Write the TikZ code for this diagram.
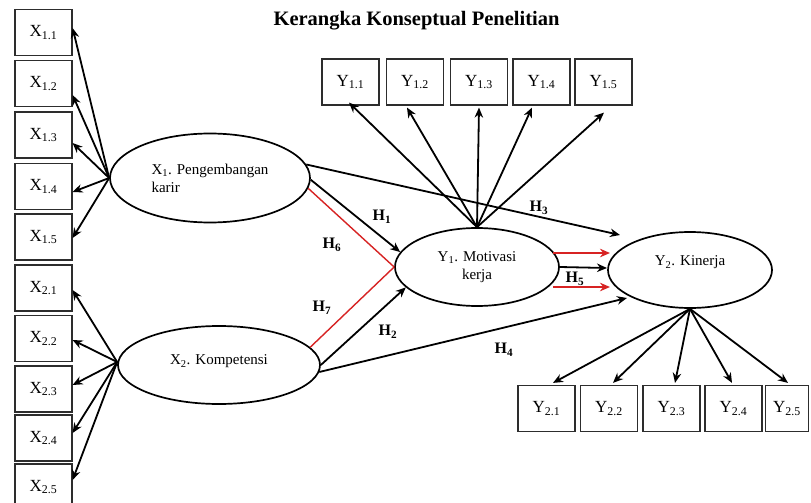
\documentclass[tikz,border=0pt]{standalone}
\usepackage{fontspec}
\setmainfont{Liberation Serif}
\usetikzlibrary{shapes.geometric,arrows.meta,calc}
\definecolor{hred}{RGB}{215,35,35}
\definecolor{boxline}{RGB}{45,45,45}
\begin{document}
\begin{tikzpicture}[x=1pt,y=-1pt,
  ind/.style={draw=boxline, line width=1.2pt, minimum width=57pt, minimum height=46pt, inner sep=0pt, font=\fontsize{17}{20}\selectfont},
  lat/.style={draw, ellipse, line width=1.7pt, inner sep=0pt, font=\fontsize{15}{18}\selectfont},
  arr/.style={-{Stealth[length=10pt,width=8.5pt]}, line width=1.8pt},
  redl/.style={draw=hred, line width=1.4pt},
  hyp/.style={font=\fontsize{16}{19}\selectfont\bfseries, inner sep=0pt}]
\useasboundingbox (0,0) rectangle (811,503);
\fill[white] (0,0) rectangle (811,503);

% title
\node[font=\fontsize{20.5}{24}\selectfont\bfseries, anchor=base] (title) at (416.5,26) {Kerangka Konseptual Penelitian};

% X1 indicators
\node[ind] (x11) at (43.5,32.5) {X\textsubscript{1.1}};
\node[ind] (x12) at (43.5,83.5) {X\textsubscript{1.2}};
\node[ind] (x13) at (43.5,135) {X\textsubscript{1.3}};
\node[ind] (x14) at (43.5,186.5) {X\textsubscript{1.4}};
\node[ind] (x15) at (43.5,237) {X\textsubscript{1.5}};
% X2 indicators
\node[ind] (x21) at (43.5,288) {X\textsubscript{2.1}};
\node[ind] (x22) at (43.5,338.5) {X\textsubscript{2.2}};
\node[ind] (x23) at (43.5,389) {X\textsubscript{2.3}};
\node[ind] (x24) at (43.5,438) {X\textsubscript{2.4}};
\node[ind] (x25) at (43.5,487) {X\textsubscript{2.5}};
% Y1 indicators
\node[ind] (y11) at (350.5,82) {Y\textsubscript{1.1}};
\node[ind] (y12) at (415,82) {Y\textsubscript{1.2}};
\node[ind] (y13) at (479,82) {Y\textsubscript{1.3}};
\node[ind] (y14) at (541.5,82) {Y\textsubscript{1.4}};
\node[ind] (y15) at (603.5,82) {Y\textsubscript{1.5}};
% Y2 indicators
\node[ind] (y21) at (546.5,408.5) {Y\textsubscript{2.1}};
\node[ind] (y22) at (609,408.5) {Y\textsubscript{2.2}};
\node[ind] (y23) at (671.5,408.5) {Y\textsubscript{2.3}};
\node[ind] (y24) at (733.5,408.5) {Y\textsubscript{2.4}};
\node[ind, minimum width=43pt] (y25) at (787,408.5) {Y\textsubscript{2.5}};

% latent variables
\node[lat, minimum width=200pt, minimum height=89pt, align=left] (X1) at (210,178) {X\textsubscript{1}. Pengembangan\\karir};
\node[lat, minimum width=202pt, minimum height=78pt, align=center] (X2) at (219,365) {X\textsubscript{2}. Kompetensi\\[-8pt]\mbox{}};
\node[lat, minimum width=164pt, minimum height=78pt, align=center] (Y1) at (477,267) {Y\textsubscript{1}. Motivasi\\kerja};
\node[lat, minimum width=164pt, minimum height=76pt, align=center] (Y2) at (690,270) {Y\textsubscript{2}. Kinerja\\\mbox{}};

% free ends
\coordinate (h3e) at (620,235);
\coordinate (h4e) at (627,298);
\coordinate (r1s) at (553,253);
\coordinate (r1e) at (610,253);
\coordinate (b1e) at (607,268);
\coordinate (r2s) at (553,287);
\coordinate (r2e) at (610,287);

% reflective arrows
\draw[arr] (X1.west) -- ([yshift=4.5pt]x11.east);
\draw[arr] (X1.west) -- ([yshift=-11.5pt]x12.east);
\draw[arr] (X1.west) -- ([yshift=-8pt]x13.east);
\draw[arr] (X1.west) -- ([yshift=-5.5pt]x14.east);
\draw[arr] (X1.west) -- ([yshift=-1pt]x15.east);

\draw[arr] ([yshift=3pt]X2.west) -- ([yshift=-2pt]x21.east);
\draw[arr] ([yshift=3pt]X2.west) -- ([yshift=-1.5pt]x22.east);
\draw[arr] ([yshift=3pt]X2.west) -- ([yshift=4pt]x23.east);
\draw[arr] ([yshift=3pt]X2.west) -- ([yshift=5pt]x24.east);
\draw[arr] ([yshift=3pt]X2.west) -- ([yshift=7pt]x25.east);

\draw[arr] (Y1.north) -- ([xshift=-1.5pt,yshift=3pt]y11.south);
\draw[arr] (Y1.north) -- ([xshift=-8pt,yshift=-2pt]y12.south);
\draw[arr] (Y1.north) -- ([yshift=-2pt]y13.south);
\draw[arr] (Y1.north) -- ([xshift=-9.5pt,yshift=-2pt]y14.south);
\draw[arr] (Y1.north) -- ([xshift=0.5pt,yshift=-7pt]y15.south);

\draw[arr] (Y2.south) -- ([xshift=6.5pt,yshift=2pt]y21.north);
\draw[arr] (Y2.south) -- ([xshift=4pt,yshift=2pt]y22.north);
\draw[arr] (Y2.south) -- ([xshift=3.5pt,yshift=2pt]y23.north);
\draw[arr] (Y2.south) -- ([xshift=-1.5pt,yshift=2pt]y24.north);
\draw[arr] (Y2.south) -- ([xshift=1pt,yshift=2pt]y25.north);

% structural paths
\draw[redl] (X1.-6) -- (Y1.west);
\draw[redl] (X2.11) -- (Y1.west);
\draw[arr] (X1.-1) -- (Y1.169);
\draw[arr] (X2.east) -- (Y1.196);
\draw[arr] (X1.8) -- (h3e);
\draw[arr] (X2.-4) -- (h4e);
\draw[arr, draw=hred, fill=hred] (r1s) -- (r1e);
\draw[arr] (Y1.east) -- (b1e);
\draw[arr, draw=hred, fill=hred] (r2s) -- (r2e);

% hypothesis labels
\node[hyp] (H1) at (382,217) {H\textsubscript{1}};
\node[hyp] (H2) at (388,332) {H\textsubscript{2}};
\node[hyp] (H3) at (539,208) {H\textsubscript{3}};
\node[hyp] (H4) at (504,350) {H\textsubscript{4}};
\node[hyp] (H5) at (575,279) {H\textsubscript{5}};
\node[hyp] (H6) at (332,245) {H\textsubscript{6}};
\node[hyp] (H7) at (322,308) {H\textsubscript{7}};
\end{tikzpicture}
\end{document}
